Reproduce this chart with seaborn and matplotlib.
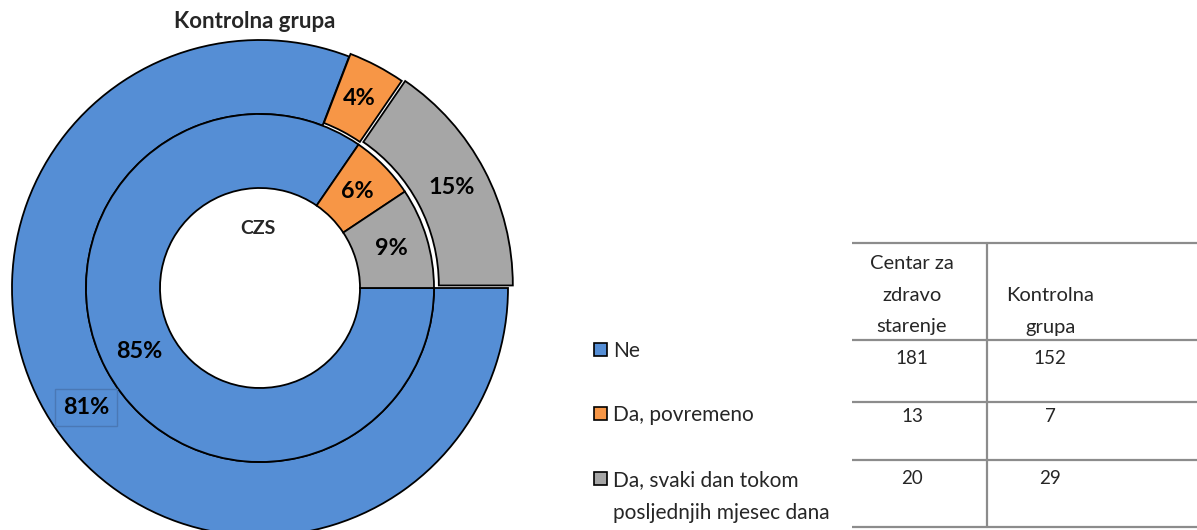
import matplotlib
matplotlib.use("Agg")
import matplotlib.pyplot as plt
from matplotlib.patches import Rectangle
import seaborn as sns

# ---- data ----
categories = ["Ne", "Da, povremeno", "Da, svaki dan tokom\nposljednjih mjesec dana"]
czs_counts = [181, 13, 20]          # Centar za zdravo starenje (inner ring)
kontrolna_counts = [152, 7, 29]     # Kontrolna grupa (outer ring)
table_headers = ["Centar za\nzdravo\nstarenje", "Kontrolna\ngrupa"]
outer_title = "Kontrolna grupa"
inner_title = "CZS"

sns.set_style("white")
plt.rcParams["font.family"] = ["Lato", "DejaVu Sans"]

colors = ["#558ED5", "#F79646", "#A6A6A6"]

W, H = 1197, 530
fig = plt.figure(figsize=(W / 100, H / 100), dpi=100)

# pie axes: centre (260, 288) px from top, outer radius 248 px
cx, cy, R = 260, 288, 248
ax = fig.add_axes([(cx - R) / W, (H - cy - R) / H, 2 * R / W, 2 * R / H])

r_mid = 174 / R
ring_w = (R - 174) / R
hole = 100 / R
inner_w = r_mid - hole

lbl_font = dict(fontsize=16.8, fontweight="bold", color="black")

wo, to, ao = ax.pie(kontrolna_counts, radius=1, colors=colors, startangle=0,
                    counterclock=False, explode=[0, 0.012, 0.022],
                    wedgeprops=dict(width=ring_w, edgecolor="black", linewidth=1.3),
                    autopct="%.0f%%", pctdistance=1 - ring_w / 2,
                    textprops=lbl_font)
wi, ti, ai = ax.pie(czs_counts, radius=r_mid, colors=colors, startangle=0,
                    counterclock=False,
                    wedgeprops=dict(width=inner_w, edgecolor="black", linewidth=1.3),
                    autopct="%.0f%%", pctdistance=(r_mid - inner_w / 2) / r_mid,
                    textprops=lbl_font)
for w in list(wo) + list(wi):
    w.set_clip_on(False)
ao[0].set_bbox(dict(boxstyle="square,pad=0.33", facecolor="none",
                    edgecolor="#4a78b5", linewidth=1.0))
ax.set_xlim(-1, 1)
ax.set_ylim(-1, 1)
ax.set_aspect("equal")
ax.axis("off")

ax.text(-0.02, (cy - 22) / R, outer_title, ha="center", va="center",
        fontsize=16, fontweight="bold", clip_on=False)
ax.text(-0.01, (cy - 228) / R, inner_title, ha="center", va="center",
        fontsize=14, fontweight="bold")

# overlay axes in pixel coordinates for legend and table
ov = fig.add_axes([0, 0, 1, 1])
ov.set_xlim(0, W)
ov.set_ylim(H, 0)
ov.axis("off")

# legend
leg_y = [349, 413, 478]
for cat, col, y in zip(categories, colors, leg_y):
    ov.add_patch(Rectangle((594, y - 6.5), 13, 13, facecolor=col,
                           edgecolor="black", linewidth=1.2))
    ov.text(613, y - 8, cat, ha="left", va="top", fontsize=15,
            linespacing=1.8)

# table
line_col = "#8c8c8c"
tx0, tx1, tx_mid = 852, W, 987
row_lines = [243, 340, 402, 460, 527]
for yl in row_lines:
    ov.plot([tx0, tx1], [yl, yl], color=line_col, linewidth=1.6,
            solid_capstyle="butt")
ov.plot([tx_mid, tx_mid], [row_lines[0], row_lines[-1]], color=line_col,
        linewidth=1.6)

col_x = [912, 1050]
head_top = [263, 295]
for x, t, hdr in zip(col_x, head_top, table_headers):
    ov.text(x, t - 8, hdr, ha="center", va="top", fontsize=14.5,
            linespacing=2.05, multialignment="center")
row_text_y = [358, 417, 478]
for y, a, b in zip(row_text_y, czs_counts, kontrolna_counts):
    ov.text(col_x[0], y, str(a), ha="center", va="center", fontsize=13.5)
    ov.text(col_x[1], y, str(b), ha="center", va="center", fontsize=13.5)

fig.savefig("out.png", dpi=100)
